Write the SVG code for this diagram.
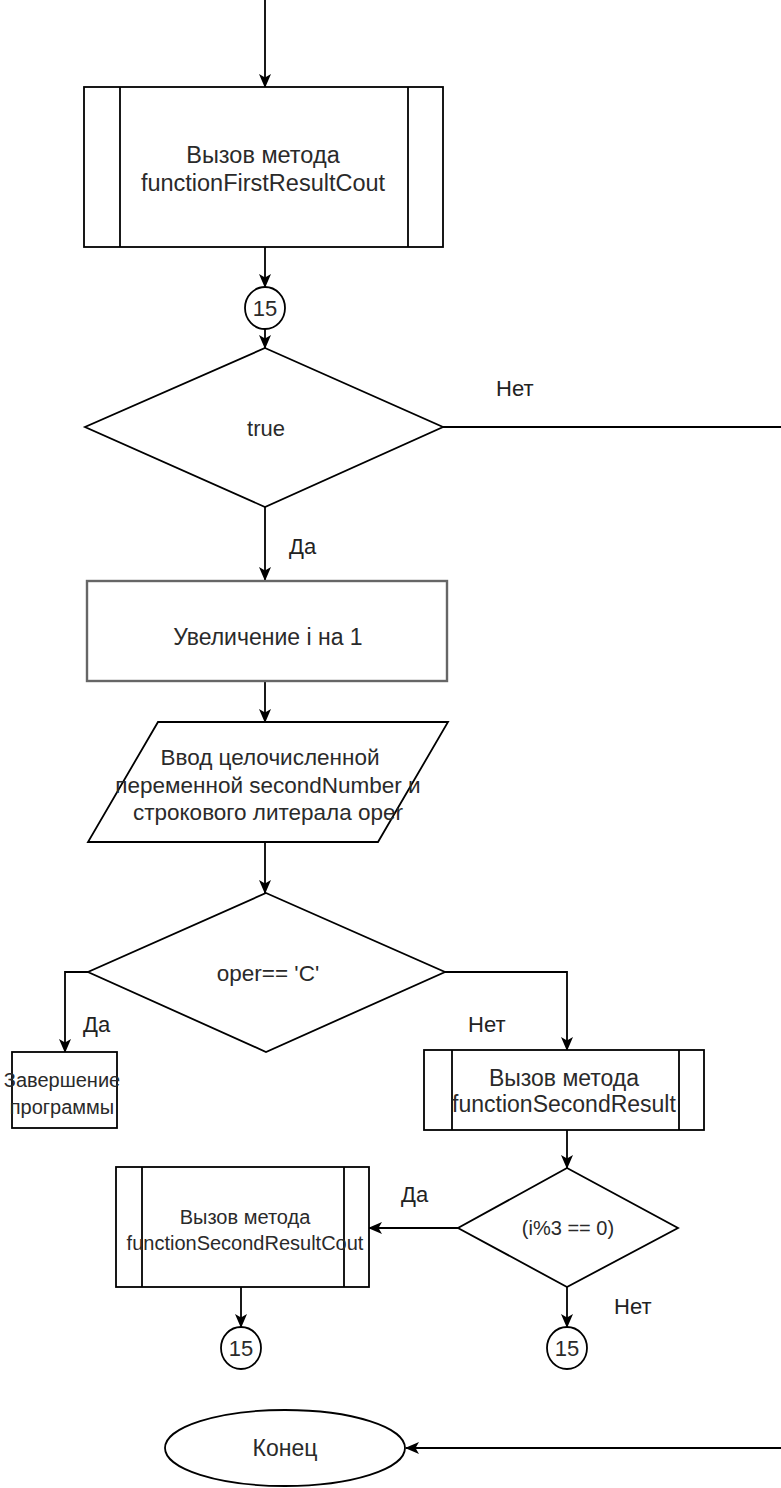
<svg xmlns="http://www.w3.org/2000/svg" width="781" height="1488" viewBox="0 0 781 1488">
<defs>
<marker id="arr" markerWidth="14" markerHeight="12" refX="13" refY="6" orient="auto" markerUnits="userSpaceOnUse">
<path d="M0,0 L14,6 L0,12 L3.5,6 z" fill="#000"/>
</marker>
<style>
.s{fill:#fff;stroke:#000;stroke-width:1.8}
.g{fill:#fff;stroke:#666;stroke-width:2.4}
.c{fill:none;stroke:#000;stroke-width:1.8}
.t{font-family:"Liberation Sans",Arial,sans-serif;fill:#2a2a2a;text-anchor:middle}
.l{font-family:"Liberation Sans",Arial,sans-serif;fill:#222;font-size:22px}
</style>
</defs>
<rect width="781" height="1488" fill="#fff"/>
<g id="connectors">
<path class="c" d="M265,0 V87" marker-end="url(#arr)"/>
<path class="c" d="M265,247 V287" marker-end="url(#arr)"/>
<path class="c" d="M265,329 V348" marker-end="url(#arr)"/>
<path class="c" d="M265,507 V580" marker-end="url(#arr)"/>
<path class="c" d="M443,427 H781"/>
<path class="c" d="M781,1448 H406" marker-end="url(#arr)"/>
<path class="c" d="M265,681 V722" marker-end="url(#arr)"/>
<path class="c" d="M265,842 V893" marker-end="url(#arr)"/>
<path class="c" d="M88,972 H65 V1052" marker-end="url(#arr)"/>
<path class="c" d="M445,972 H567 V1050" marker-end="url(#arr)"/>
<path class="c" d="M567,1130 V1168" marker-end="url(#arr)"/>
<path class="c" d="M458,1228 H369" marker-end="url(#arr)"/>
<path class="c" d="M241,1287 V1327" marker-end="url(#arr)"/>
<path class="c" d="M567,1287 V1327" marker-end="url(#arr)"/>
<text class="l" x="496" y="396">Нет</text>
<text class="l" x="289" y="554">Да</text>
<text class="l" x="83" y="1032">Да</text>
<text class="l" x="468" y="1032">Нет</text>
<text class="l" x="401" y="1202">Да</text>
<text class="l" x="614" y="1314">Нет</text>
</g>
<g id="call1">
<rect class="s" x="84" y="87" width="359" height="160"/>
<line class="s" x1="120" y1="87" x2="120" y2="247"/>
<line class="s" x1="408" y1="87" x2="408" y2="247"/>
<text class="t" font-size="23.5" x="263" y="163">Вызов метода</text>
<text class="t" font-size="23.5" x="263" y="191">functionFirstResultCout</text>
</g>
<g id="conn15a">
<ellipse class="s" cx="265" cy="308" rx="20" ry="21"/>
<text class="t" font-size="22" x="265" y="316">15</text>
</g>
<g id="cond-true">
<polygon class="s" points="265,348 443,427 265,507 85,427"/>
<text class="t" font-size="22" x="266" y="436">true</text>
</g>
<g id="inc">
<rect class="g" x="87" y="581" width="360" height="100"/>
<text class="t" font-size="23" x="268" y="645">Увеличение i на 1</text>
</g>
<g id="input">
<polygon class="s" points="158,722 448,722 378,842 88,842"/>
<text class="t" font-size="22.5" x="270" y="765">Ввод целочисленной</text>
<text class="t" font-size="22.5" x="268" y="793">переменной secondNumber и</text>
<text class="t" font-size="22.5" x="268" y="820">строкового литерала oper</text>
</g>
<g id="cond-oper">
<polygon class="s" points="266,893 445,972 266,1052 88,972"/>
<text class="t" font-size="22.5" x="268" y="981">oper== 'C'</text>
</g>
<g id="exit">
<rect class="s" x="12" y="1052" width="105" height="76"/>
<text class="t" font-size="20" x="62" y="1087">Завершение</text>
<text class="t" font-size="20" x="62" y="1114">программы</text>
</g>
<g id="call2">
<rect class="s" x="424" y="1050" width="280" height="80"/>
<line class="s" x1="452" y1="1050" x2="452" y2="1130"/>
<line class="s" x1="679" y1="1050" x2="679" y2="1130"/>
<text class="t" font-size="23" x="564" y="1086">Вызов метода</text>
<text class="t" font-size="23" x="564" y="1112">functionSecondResult</text>
</g>
<g id="cond-mod">
<polygon class="s" points="567,1168 678,1228 567,1287 458,1228"/>
<text class="t" font-size="20" x="568" y="1235">(i%3 == 0)</text>
</g>
<g id="call3">
<rect class="s" x="116" y="1167" width="253" height="120"/>
<line class="s" x1="142" y1="1167" x2="142" y2="1287"/>
<line class="s" x1="344" y1="1167" x2="344" y2="1287"/>
<text class="t" font-size="20" x="245" y="1224">Вызов метода</text>
<text class="t" font-size="20" x="245" y="1250">functionSecondResultCout</text>
</g>
<g id="conn15b">
<ellipse class="s" cx="241" cy="1348" rx="20" ry="21"/>
<text class="t" font-size="22" x="241" y="1356">15</text>
</g>
<g id="conn15c">
<ellipse class="s" cx="567" cy="1348" rx="20" ry="21"/>
<text class="t" font-size="22" x="567" y="1356">15</text>
</g>
<g id="end">
<ellipse class="s" cx="285" cy="1448" rx="120" ry="38"/>
<text class="t" font-size="23" x="285" y="1456">Конец</text>
</g>
</svg>
